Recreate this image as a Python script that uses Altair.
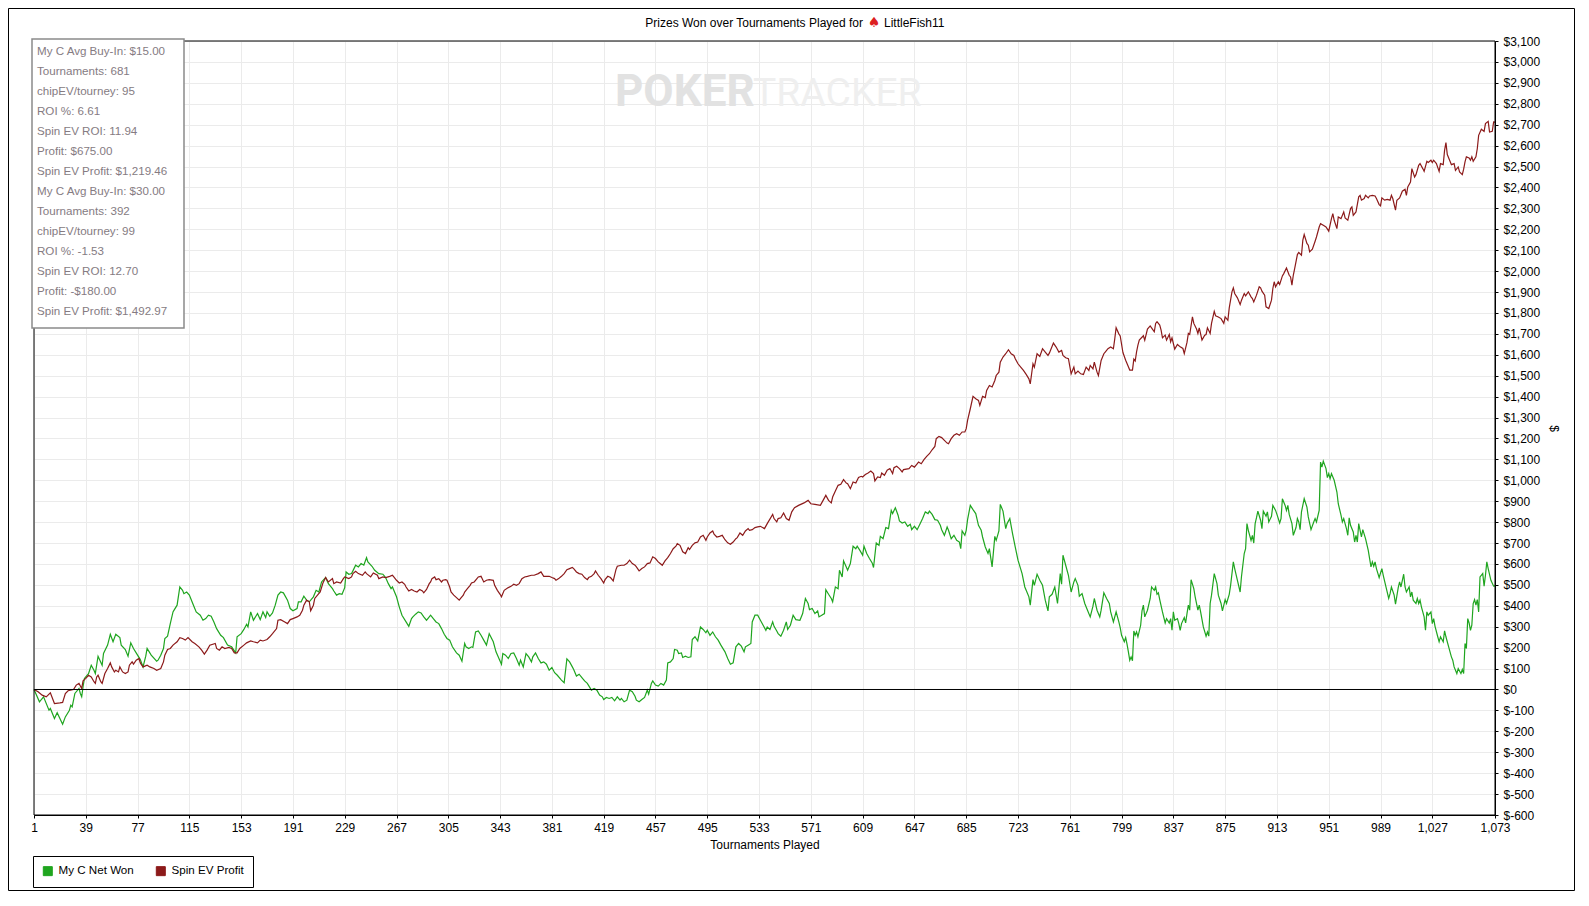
import altair as alt
import pandas as pd

FONT = "Liberation Sans, Arial, sans-serif"
TITLE_LEFT = "Prizes Won over Tournaments Played for"
TITLE_ICON = "\u2660"
TITLE_RIGHT = "LittleFish11"
X_TITLE = "Tournaments Played"
Y_TITLE = "$"
SERIES = ["My C Net Won", "Spin EV Profit"]
COLORS = ["#1fa51f", "#8c1a1a"]
INFO_LINES = [
    "My C Avg Buy-In: $15.00",
    "Tournaments: 681",
    "chipEV/tourney: 95",
    "ROI %: 6.61",
    "Spin EV ROI: 11.94",
    "Profit: $675.00",
    "Spin EV Profit: $1,219.46",
    "My C Avg Buy-In: $30.00",
    "Tournaments: 392",
    "chipEV/tourney: 99",
    "ROI %: -1.53",
    "Spin EV ROI: 12.70",
    "Profit: -$180.00",
    "Spin EV Profit: $1,492.97",
]
X_TICKS = list(range(1, 1028, 38)) + [1073]
Y_TICKS = list(range(-600, 3101, 100))
ZERO_LINE = [0]

# (tournament, cumulative $)
GREEN_POINTS = [
    (1, 0), (5, -59), (8, -35), (12, -99), (13, -91), (16, -139), (18, -111), (22, -166), (24, -131),
    (27, -99), (28, -75), (29, -83), (31, -19), (34, 5), (35, -19), (36, -35), (37, 13), (38, 53),
    (41, 76), (43, 116), (45, 92), (46, 76), (48, 159), (51, 116), (52, 172), (55, 212), (57, 264),
    (59, 228), (61, 264), (64, 248), (65, 212), (68, 191), (70, 159), (72, 223), (74, 196), (77, 164),
    (79, 143), (81, 108), (83, 159), (84, 196), (87, 164), (91, 135), (92, 140), (94, 164), (96, 196),
    (97, 244), (99, 255), (101, 315), (103, 371), (104, 382), (106, 403), (108, 490), (110, 474),
    (111, 458), (113, 466), (115, 451), (118, 403), (120, 371), (123, 355), (125, 331), (127, 339),
    (129, 355), (131, 350), (133, 323), (135, 291), (138, 259), (140, 248), (143, 212), (146, 204),
    (149, 175), (150, 252), (153, 267), (155, 287), (157, 312), (158, 299), (160, 371), (162, 331),
    (165, 363), (167, 334), (169, 371), (171, 344), (172, 371), (174, 350), (176, 366), (178, 403),
    (180, 451), (182, 466), (184, 462), (187, 427), (189, 387), (191, 376), (194, 387), (195, 419),
    (197, 419), (199, 446), (201, 427), (203, 419), (206, 443), (208, 474), (210, 466), (212, 514),
    (215, 535), (217, 506), (220, 482), (221, 471), (223, 451), (225, 458), (227, 455), (229, 487),
    (230, 562), (232, 551), (234, 554), (235, 567), (237, 594), (239, 586), (241, 602), (243, 594),
    (245, 630), (246, 610), (249, 589), (251, 570), (254, 554), (257, 551), (259, 535), (261, 506),
    (263, 482), (264, 490), (267, 443), (269, 395), (271, 355), (274, 323), (276, 302), (278, 339),
    (279, 347), (281, 360), (283, 371), (285, 366), (287, 347), (289, 331), (290, 339), (292, 355),
    (294, 339), (296, 323), (298, 315), (300, 291), (302, 264), (304, 244), (306, 236), (308, 204),
    (311, 175), (313, 164), (315, 135), (317, 220), (318, 204), (320, 196), (322, 204), (323, 201),
    (325, 275), (327, 280), (329, 259), (331, 236), (333, 212), (335, 267), (338, 228), (340, 180),
    (344, 121), (345, 172), (347, 164), (349, 148), (351, 172), (353, 175), (355, 148), (357, 116),
    (358, 140), (360, 108), (362, 172), (364, 156), (366, 132), (367, 156), (369, 175), (371, 148),
    (373, 127), (375, 132), (377, 121), (379, 92), (381, 105), (383, 80), (385, 68), (388, 45),
    (390, 32), (392, 146), (394, 132), (396, 108), (397, 96), (399, 64), (401, 73), (403, 57),
    (405, 41), (407, 29), (410, -3), (412, 5), (414, -3), (416, -27), (418, -35), (419, -48),
    (421, -38), (423, -43), (425, -38), (427, -54), (429, -35), (431, -51), (432, -43), (434, -59),
    (436, -51), (438, -3), (440, -11), (442, -32), (443, -51), (445, -59), (447, -48), (449, -38),
    (451, -3), (452, -22), (454, 29), (455, 41), (457, 21), (459, 16), (461, 29), (463, 21), (465, 45),
    (466, 127), (468, 132), (470, 148), (471, 191), (473, 188), (474, 172), (476, 175), (477, 153),
    (479, 159), (481, 153), (483, 156), (484, 239), (486, 252), (488, 232), (490, 299), (492, 287),
    (494, 271), (495, 283), (497, 259), (499, 275), (501, 252), (503, 236), (505, 212), (508, 180),
    (510, 148), (512, 121), (514, 127), (516, 204), (518, 220), (520, 207), (522, 180), (523, 204),
    (525, 212), (527, 220), (528, 323), (530, 355), (532, 355), (534, 331), (536, 307), (538, 283),
    (539, 299), (541, 287), (543, 323), (544, 302), (546, 280), (547, 267), (549, 255), (551, 283),
    (553, 323), (554, 287), (556, 307), (558, 355), (560, 334), (563, 331), (565, 363), (567, 435),
    (569, 411), (570, 382), (572, 387), (574, 363), (576, 376), (577, 347), (579, 355), (581, 363),
    (582, 477), (584, 455), (586, 435), (587, 419), (589, 490), (591, 482), (592, 570), (594, 538),
    (595, 615), (597, 586), (598, 570), (600, 602), (602, 685), (604, 673), (605, 685), (607, 665),
    (609, 642), (610, 685), (612, 650), (614, 626), (616, 605), (617, 583), (619, 700), (621, 689),
    (622, 732), (624, 721), (626, 774), (628, 769), (630, 856), (631, 841), (633, 869), (635, 833),
    (636, 806), (638, 796), (640, 801), (642, 780), (644, 790), (645, 764), (647, 780), (649, 764),
    (651, 790), (653, 817), (655, 849), (657, 841), (658, 853), (660, 837), (662, 812), (664, 809),
    (666, 785), (667, 764), (669, 737), (671, 777), (672, 761), (674, 721), (676, 737), (678, 713),
    (680, 705), (681, 673), (682, 758), (684, 737), (685, 761), (686, 812), (688, 880), (690, 860),
    (692, 841), (694, 785), (696, 761), (697, 729), (699, 681), (701, 650), (702, 673), (704, 586),
    (706, 732), (707, 713), (709, 758), (710, 885), (712, 853), (714, 769), (715, 793), (717, 817),
    (719, 745), (721, 681), (723, 618), (726, 554), (728, 490), (729, 474), (731, 443), (732, 403),
    (734, 525), (735, 498), (737, 551), (739, 522), (741, 498), (743, 427), (745, 376), (746, 443),
    (748, 455), (750, 490), (752, 411), (754, 554), (755, 503), (756, 642), (758, 594), (760, 546),
    (762, 466), (764, 514), (765, 530), (767, 498), (768, 446), (770, 458), (772, 411), (774, 379),
    (776, 347), (778, 398), (779, 435), (781, 379), (783, 347), (784, 379), (786, 462), (788, 435),
    (790, 411), (791, 371), (793, 323), (795, 371), (797, 323), (798, 296), (799, 259), (801, 228),
    (802, 248), (803, 217), (804, 180), (805, 140), (806, 156), (807, 137), (808, 280), (809, 259),
    (810, 275), (811, 252), (813, 307), (814, 376), (815, 403), (816, 347), (818, 379), (820, 435),
    (821, 490), (823, 474), (824, 490), (825, 455), (826, 462), (827, 430), (829, 371), (831, 318),
    (832, 339), (834, 318), (835, 339), (836, 283), (837, 371), (838, 331), (840, 339), (841, 315),
    (842, 283), (843, 315), (845, 344), (846, 318), (847, 363), (848, 403), (849, 379), (850, 525),
    (852, 482), (853, 443), (855, 379), (856, 403), (857, 371), (859, 299), (861, 255), (862, 275),
    (863, 255), (864, 411), (865, 451), (867, 554), (869, 506), (870, 451), (872, 411), (873, 376),
    (875, 430), (876, 411), (878, 455), (879, 498), (881, 610), (882, 578), (884, 522), (886, 466),
    (887, 541), (889, 650), (890, 673), (891, 793), (892, 761), (894, 713), (895, 737), (896, 700),
    (897, 793), (898, 821), (899, 853), (901, 809), (902, 769), (903, 853), (905, 828), (906, 849),
    (907, 801), (909, 828), (910, 880), (912, 856), (913, 837), (915, 796), (916, 817), (917, 912),
    (919, 880), (920, 856), (921, 880), (922, 837), (924, 793), (925, 737), (927, 774), (928, 817),
    (929, 801), (930, 764), (931, 849), (933, 912), (935, 872), (936, 825), (938, 764), (940, 801),
    (941, 817), (942, 801), (944, 856), (945, 1087), (946, 1063), (947, 1092), (949, 1056),
    (950, 1013), (951, 1032), (952, 1008), (953, 1032), (955, 1000), (957, 944), (958, 888),
    (960, 833), (961, 801), (962, 817), (964, 769), (965, 737), (966, 821), (967, 785), (969, 753),
    (970, 705), (971, 737), (972, 705), (973, 793), (974, 761), (975, 729), (976, 764), (978, 721),
    (980, 665), (981, 626), (982, 586), (983, 610), (984, 589), (985, 610), (986, 578), (988, 535),
    (989, 557), (990, 578), (991, 546), (993, 490), (995, 435), (996, 458), (997, 490), (999, 451),
    (1000, 408), (1002, 487), (1003, 514), (1004, 490), (1006, 551), (1007, 490), (1008, 466),
    (1010, 490), (1011, 443), (1012, 466), (1013, 427), (1015, 411), (1016, 435), (1017, 411),
    (1018, 427), (1019, 395), (1021, 347), (1022, 283), (1023, 371), (1024, 355), (1026, 371),
    (1027, 315), (1028, 339), (1029, 302), (1031, 252), (1032, 228), (1033, 252), (1035, 228),
    (1036, 280), (1037, 252), (1039, 204), (1041, 156), (1042, 140), (1043, 108), (1045, 76),
    (1046, 100), (1048, 76), (1049, 96), (1050, 76), (1051, 220), (1052, 196), (1053, 339),
    (1054, 318), (1055, 283), (1056, 307), (1057, 411), (1058, 430), (1059, 403), (1060, 430),
    (1061, 371), (1062, 538), (1064, 554), (1065, 494), (1066, 546), (1067, 610), (1068, 578),
    (1070, 522), (1072, 494), (1073, 495),
]

RED_POINTS = [
    (1, 0), (4, -11), (7, -27), (10, -35), (13, -16), (16, -67), (20, -64), (22, -62), (24, -19),
    (26, -6), (30, 0), (32, 21), (34, 29), (36, 5), (37, 41), (39, 53), (41, 68), (43, 60), (45, 37),
    (46, 29), (47, 60), (48, 68), (50, 37), (51, 29), (53, 76), (55, 100), (57, 127), (58, 108),
    (60, 84), (61, 92), (63, 84), (64, 108), (66, 84), (68, 76), (70, 84), (71, 116), (73, 132),
    (74, 121), (76, 140), (78, 148), (79, 127), (81, 108), (84, 116), (86, 108), (89, 100), (91, 92),
    (94, 100), (96, 132), (97, 164), (99, 191), (101, 196), (103, 212), (106, 228), (108, 248),
    (110, 244), (112, 236), (114, 248), (117, 228), (119, 220), (122, 204), (124, 188), (126, 169),
    (128, 188), (130, 212), (134, 220), (135, 196), (137, 188), (139, 204), (141, 196), (144, 201),
    (146, 196), (148, 175), (150, 175), (152, 196), (155, 212), (157, 223), (160, 232), (162, 228),
    (165, 223), (167, 236), (169, 232), (172, 239), (174, 252), (176, 267), (179, 291), (180, 331),
    (182, 334), (185, 323), (187, 315), (189, 334), (191, 339), (194, 347), (196, 355), (198, 379),
    (199, 403), (201, 427), (203, 419), (204, 376), (206, 403), (207, 435), (209, 451), (211, 466),
    (213, 509), (215, 535), (217, 514), (220, 530), (221, 506), (223, 514), (226, 509), (228, 530),
    (229, 538), (232, 530), (234, 538), (235, 554), (237, 565), (239, 554), (242, 546), (244, 562),
    (245, 554), (248, 538), (250, 557), (253, 546), (254, 530), (257, 538), (259, 535), (262, 541),
    (264, 546), (265, 538), (267, 522), (269, 509), (271, 514), (273, 503), (274, 490), (276, 471),
    (278, 478), (280, 471), (282, 466), (284, 478), (286, 471), (287, 462), (289, 478), (291, 506),
    (292, 514), (293, 530), (295, 538), (296, 525), (298, 530), (300, 514), (301, 522), (303, 525),
    (304, 522), (306, 490), (307, 466), (309, 451), (311, 439), (313, 427), (314, 435), (316, 451),
    (317, 466), (319, 482), (321, 498), (322, 509), (324, 514), (326, 530), (327, 538), (329, 541),
    (331, 514), (333, 522), (335, 525), (338, 522), (339, 498), (341, 474), (343, 455), (344, 443),
    (346, 474), (349, 487), (351, 493), (353, 503), (355, 498), (357, 506), (359, 530), (361, 538),
    (363, 541), (366, 546), (368, 546), (371, 554), (373, 562), (375, 541), (377, 541), (379, 541),
    (381, 535), (383, 530), (384, 522), (386, 530), (388, 541), (390, 554), (392, 573), (394, 578),
    (396, 583), (397, 578), (399, 562), (401, 554), (403, 551), (405, 535), (407, 525), (408, 535),
    (410, 541), (412, 554), (413, 567), (415, 546), (417, 530), (419, 509), (420, 525), (422, 541),
    (424, 535), (426, 519), (428, 573), (429, 589), (432, 594), (434, 594), (436, 602), (438, 618),
    (440, 602), (442, 594), (443, 586), (445, 567), (447, 578), (449, 586), (451, 602), (453, 605),
    (455, 634), (457, 626), (459, 610), (460, 605), (462, 594), (464, 615), (466, 630), (468, 650),
    (470, 673), (472, 685), (473, 697), (475, 689), (477, 658), (479, 650), (481, 678), (482, 669),
    (484, 689), (486, 701), (488, 705), (490, 729), (492, 737), (494, 713), (495, 729), (497, 748),
    (499, 758), (500, 742), (502, 729), (504, 732), (506, 737), (508, 716), (510, 701), (512, 694),
    (514, 705), (516, 721), (517, 726), (519, 748), (521, 737), (523, 758), (525, 769), (526, 761),
    (528, 764), (530, 774), (532, 777), (534, 780), (537, 769), (539, 793), (543, 837), (544, 817),
    (546, 801), (547, 817), (549, 821), (551, 844), (553, 817), (555, 809), (557, 849), (559, 869),
    (562, 880), (566, 892), (569, 904), (571, 888), (574, 885), (578, 880), (580, 904), (582, 928),
    (584, 904), (586, 892), (587, 920), (589, 949), (591, 976), (593, 981), (595, 1003), (597, 987),
    (598, 984), (600, 960), (602, 992), (604, 987), (606, 1013), (608, 1019), (609, 1016),
    (611, 1028), (613, 1035), (615, 1044), (617, 1032), (618, 997), (620, 1016), (622, 1013),
    (623, 1035), (625, 1024), (627, 1048), (629, 1056), (631, 1032), (632, 1060), (634, 1067),
    (636, 1056), (638, 1040), (639, 1051), (643, 1056), (645, 1071), (647, 1063), (649, 1079),
    (650, 1087), (652, 1079), (654, 1099), (656, 1114), (658, 1127), (660, 1146), (662, 1162),
    (663, 1199), (665, 1210), (667, 1204), (669, 1191), (671, 1178), (672, 1175), (674, 1199),
    (676, 1215), (678, 1223), (680, 1215), (682, 1231), (684, 1231), (685, 1247), (686, 1286),
    (688, 1342), (690, 1401), (692, 1390), (694, 1382), (695, 1358), (697, 1401), (699, 1395),
    (700, 1430), (702, 1453), (704, 1446), (706, 1477), (707, 1501), (709, 1517), (710, 1565),
    (712, 1589), (714, 1605), (716, 1624), (718, 1605), (720, 1597), (721, 1581), (723, 1557),
    (725, 1541), (727, 1525), (729, 1506), (731, 1485), (732, 1461), (734, 1557), (735, 1541),
    (737, 1605), (739, 1592), (741, 1629), (743, 1613), (745, 1597), (746, 1608), (749, 1656),
    (751, 1637), (753, 1613), (755, 1621), (756, 1597), (758, 1586), (760, 1581), (762, 1509),
    (764, 1541), (765, 1509), (767, 1522), (769, 1509), (771, 1506), (773, 1541), (775, 1525),
    (776, 1549), (778, 1533), (779, 1565), (781, 1517), (782, 1501), (784, 1573), (786, 1605),
    (787, 1613), (789, 1629), (791, 1637), (793, 1629), (794, 1676), (795, 1729), (797, 1700),
    (798, 1690), (800, 1611), (802, 1574), (804, 1543), (805, 1527), (807, 1527), (808, 1579),
    (809, 1570), (810, 1614), (811, 1646), (812, 1670), (815, 1691), (816, 1670), (818, 1723),
    (820, 1738), (821, 1729), (823, 1710), (824, 1750), (825, 1758), (827, 1742), (828, 1718),
    (829, 1681), (831, 1694), (832, 1670), (834, 1697), (835, 1662), (836, 1681), (837, 1654),
    (838, 1627), (840, 1649), (842, 1638), (844, 1630), (845, 1606), (847, 1659), (848, 1702),
    (849, 1697), (851, 1781), (852, 1750), (854, 1723), (855, 1702), (856, 1729), (858, 1670),
    (860, 1694), (861, 1697), (862, 1729), (864, 1702), (865, 1750), (867, 1808), (868, 1786),
    (870, 1781), (872, 1773), (874, 1750), (875, 1781), (877, 1765), (878, 1824), (880, 1901),
    (881, 1920), (882, 1893), (884, 1872), (886, 1840), (887, 1861), (889, 1893), (890, 1882),
    (892, 1901), (894, 1877), (895, 1869), (896, 1853), (898, 1885), (900, 1925), (901, 1920),
    (902, 1904), (904, 1885), (905, 1829), (907, 1821), (909, 1861), (910, 1917), (911, 1949),
    (912, 1925), (914, 1949), (915, 1936), (917, 1977), (918, 1988), (920, 2015), (922, 1980),
    (923, 1972), (924, 1933), (925, 1980), (926, 2012), (928, 2079), (929, 2089), (931, 2076),
    (932, 2148), (933, 2175), (935, 2132), (936, 2124), (937, 2092), (939, 2105), (941, 2143),
    (942, 2163), (944, 2211), (945, 2227), (947, 2219), (949, 2211), (951, 2191), (953, 2251),
    (954, 2275), (955, 2243), (957, 2203), (958, 2259), (960, 2251), (962, 2283), (963, 2254),
    (965, 2243), (967, 2299), (968, 2307), (969, 2267), (971, 2283), (973, 2355), (974, 2362),
    (975, 2339), (977, 2347), (978, 2362), (980, 2350), (981, 2359), (983, 2362), (985, 2359),
    (986, 2347), (988, 2318), (989, 2312), (990, 2350), (992, 2339), (994, 2343), (996, 2339),
    (997, 2362), (998, 2347), (1000, 2291), (1001, 2339), (1003, 2350), (1005, 2382), (1007, 2391),
    (1008, 2362), (1009, 2402), (1011, 2426), (1012, 2490), (1014, 2450), (1015, 2461),
    (1017, 2506), (1018, 2514), (1020, 2490), (1021, 2477), (1023, 2525), (1024, 2519),
    (1026, 2530), (1027, 2519), (1028, 2530), (1030, 2514), (1032, 2477), (1033, 2514),
    (1035, 2509), (1036, 2577), (1037, 2614), (1038, 2557), (1040, 2525), (1041, 2509),
    (1043, 2514), (1044, 2482), (1046, 2498), (1047, 2474), (1049, 2461), (1050, 2487),
    (1051, 2522), (1052, 2546), (1054, 2541), (1055, 2530), (1056, 2546), (1057, 2525),
    (1059, 2546), (1060, 2585), (1061, 2649), (1063, 2678), (1065, 2668), (1066, 2705),
    (1068, 2716), (1069, 2665), (1071, 2668), (1072, 2713), (1073, 2712),
]

W, H = 1461, 774

rows = [{"t": t, "v": v, "series": SERIES[0]} for t, v in GREEN_POINTS]
rows += [{"t": t, "v": v, "series": SERIES[1]} for t, v in RED_POINTS]
df = pd.DataFrame(rows)
zero_df = pd.DataFrame({"v": ZERO_LINE})
one = pd.DataFrame({"k": [0]})

y_axis = alt.Axis(
    orient="right", values=Y_TICKS,
    labelExpr="datum.value < 0 ? '$-' + format(-datum.value, ',') : '$' + format(datum.value, ',')",
    title=Y_TITLE, titleAngle=90, titleX=58, titleY=387, titleAlign="center",
    titleBaseline="middle", titleFont=FONT, titleFontSize=12, titleFontWeight="normal",
    titleColor="black", grid=True, gridColor="#ebebeb", tickSize=3, tickColor="black",
    domainColor="black", labelPadding=5, labelFont=FONT, labelFontSize=12,
    labelColor="black", labelFlush=False, labelOverlap=False, labelSeparation=0,
)
y_scale = alt.Scale(domain=[-600, 3100], nice=False, zero=False)

x_enc = alt.X(
    "t:Q",
    scale=alt.Scale(domain=[1, 1073], nice=False, zero=False),
    axis=alt.Axis(
        values=X_TICKS, labelExpr="format(datum.value, ',')", title=X_TITLE,
        grid=True, gridColor="#ebebeb", tickSize=3, tickColor="black", domainColor="black",
        labelPadding=4, labelFont=FONT, labelFontSize=12, labelColor="black",
        labelFlush=False, labelOverlap=False, titleFont=FONT, titleFontSize=12,
        titleFontWeight="normal", titleColor="black", titleY=29, titleBaseline="middle",
    ),
)
y_enc = alt.Y("v:Q", scale=y_scale, axis=y_axis)

color_scale = alt.Scale(domain=SERIES, range=COLORS)
legend_def = alt.Legend(
    title=None, orient="none", legendX=-1, legendY=815, direction="horizontal",
    symbolType="square", symbolSize=81, padding=9, strokeColor="black",
    fillColor="white", labelFont=FONT, labelFontSize=11.6, labelColor="black",
    labelOffset=5, columnPadding=20, cornerRadius=0, symbolStrokeColor="black",
    symbolStrokeWidth=1, symbolOpacity=1,
)

# legend carrier: filled squares, no rows drawn (domain is explicit)
legend_layer = alt.Chart(df).transform_filter("datum.t < 0").mark_square(
    filled=True, size=81
).encode(color=alt.Color("series:N", scale=color_scale, legend=legend_def))

poker = alt.Chart(one).mark_text(
    text="POKER", font="Roboto, DejaVu Sans", fontSize=44, fontWeight="bold",
    color="#e2e2e2", align="left", baseline="alphabetic",
).encode(x=alt.value(581), y=alt.value(65))
tracker = alt.Chart(one).mark_text(
    text="TRACKER", font="Roboto, DejaVu Sans", fontSize=39, fontWeight="normal",
    color="#efefef", align="left", baseline="alphabetic",
).encode(x=alt.value(719), y=alt.value(65))

lines = alt.Chart(df).mark_line(strokeWidth=1.2).encode(
    x=x_enc, y=y_enc, color=alt.Color("series:N", scale=color_scale, legend=None)
)

zero = alt.Chart(zero_df).mark_rule(color="black", strokeWidth=1).encode(y=y_enc)

# black border around the plot area, drawn above the grid
plot_border = alt.Chart(one).mark_rect(fillOpacity=0, stroke="black", strokeWidth=1).encode(
    x=alt.value(0), x2=alt.value(W), y=alt.value(0), y2=alt.value(H)
)

info_box = alt.Chart(one).mark_rect(fill="white", stroke="#8a8a8a", strokeWidth=1.5).encode(
    x=alt.value(-2), x2=alt.value(150), y=alt.value(-2), y2=alt.value(287)
)
info_text = alt.Chart(one).mark_text(
    align="left", baseline="top", lineBreak="\n", lineHeight=20, font=FONT,
    fontSize=11.6, color="#857b82",
).encode(x=alt.value(3), y=alt.value(5), text=alt.value("\n".join(INFO_LINES)))

t1 = alt.Chart(one).mark_text(
    text=TITLE_LEFT, font=FONT, fontSize=12, color="black", align="right", baseline="middle"
).encode(x=alt.value(829), y=alt.value(-18))
t2 = alt.Chart(one).mark_text(
    text=TITLE_ICON, font="DejaVu Sans", fontSize=14, color="#dd2020", align="center", baseline="middle"
).encode(x=alt.value(840), y=alt.value(-18))
t3 = alt.Chart(one).mark_text(
    text=TITLE_RIGHT, font=FONT, fontSize=12, color="black", align="left", baseline="middle"
).encode(x=alt.value(850), y=alt.value(-18))

frame = alt.Chart(one).mark_rect(fillOpacity=0, stroke="black", strokeWidth=1).encode(
    x=alt.value(-25.5), x2=alt.value(W + 79.5), y=alt.value(-32.5), y2=alt.value(H + 75.5)
)

chart = alt.layer(
    legend_layer, poker, tracker, lines, zero, plot_border, info_box, info_text,
    t1, t2, t3, frame
).properties(
    width=W, height=H,
    padding={"left": 26, "top": 33, "right": 80, "bottom": 76},
    autosize=alt.AutoSizeParams(type="none"),
    background="white",
).configure_view(
    stroke="black", strokeWidth=1
).configure_axis(
    labelOverlap=False, labelSeparation=0
)

chart.save("out.html", embed_options={"renderer": "svg", "actions": False})
